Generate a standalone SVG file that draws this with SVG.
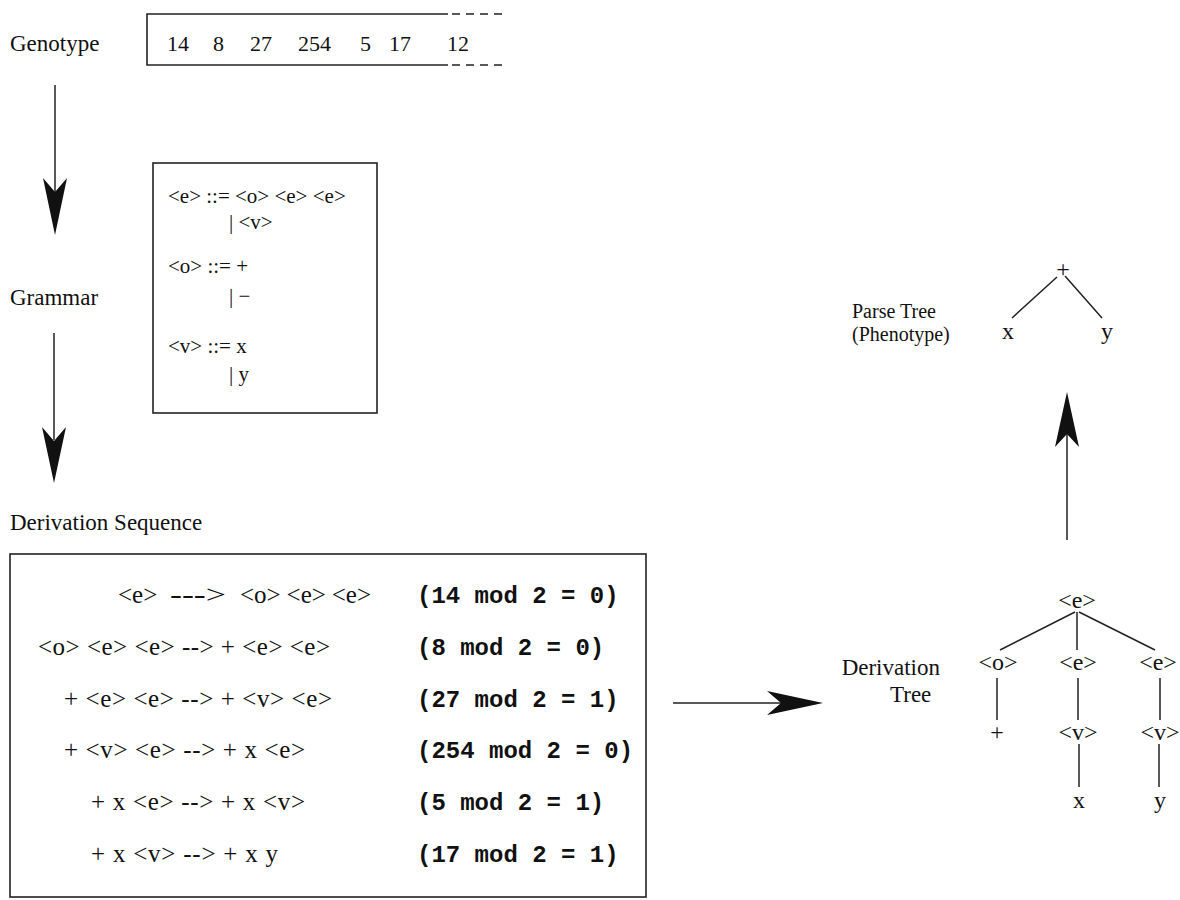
<svg xmlns="http://www.w3.org/2000/svg" width="1180" height="900" viewBox="0 0 1180 900">
<style>
.lbl{font-family:"Liberation Serif","Times New Roman",serif;font-size:23px;fill:#111}
.plbl{font-family:"Liberation Serif","Times New Roman",serif;font-size:20px;fill:#111}
.num{font-family:"Liberation Serif","Times New Roman",serif;font-size:22px;fill:#111}
.gr{font-family:"Liberation Serif","Times New Roman",serif;font-size:21px;fill:#111}
.dv{font-family:"Liberation Serif","Times New Roman",serif;font-size:25px;fill:#111}
.tr{font-family:"Liberation Serif","Times New Roman",serif;font-size:24px;fill:#111;text-anchor:middle}
.md{font-family:"Liberation Mono","Courier New",monospace;font-size:24px;font-weight:bold;fill:#111}
.box{fill:none;stroke:#222;stroke-width:1.6}
.ln{stroke:#222;stroke-width:1.5;fill:none}
.ah{fill:#111;stroke:none}
</style>
<rect width="1180" height="900" fill="#fff"/>

<g id="genotype">
<text class="lbl" x="10" y="51">Genotype</text>
<path class="box" d="M448 14 H147 V65 H448"/>
<path class="box" d="M452 14 H502 M452 65 H502" stroke-dasharray="8 6"/>
<text class="num" x="167" y="51">14</text>
<text class="num" x="213" y="51">8</text>
<text class="num" x="250" y="51">27</text>
<text class="num" x="298" y="51">254</text>
<text class="num" x="360" y="51">5</text>
<text class="num" x="389" y="51">17</text>
<text class="num" x="447" y="51">12</text>
</g>

<g id="grammar">
<text class="lbl" x="10" y="305">Grammar</text>
<rect class="box" x="153" y="163" width="224" height="250"/>
<text class="gr" x="168" y="203">&lt;e&gt; ::= &lt;o&gt; &lt;e&gt; &lt;e&gt;</text>
<text class="gr" x="229" y="229">| &lt;v&gt;</text>
<text class="gr" x="168" y="273">&lt;o&gt; ::= +</text>
<text class="gr" x="229" y="303">| −</text>
<text class="gr" x="168" y="353">&lt;v&gt; ::= x</text>
<text class="gr" x="229" y="381">| y</text>
</g>

<g id="derivation-sequence">
<text class="lbl" x="10" y="530">Derivation Sequence</text>
<rect class="box" x="10" y="554" width="636" height="343"/>
<text class="dv" x="118" y="603">&lt;e&gt;</text>
<text class="dv" x="170" y="603" textLength="56" lengthAdjust="spacingAndGlyphs">---&gt;</text>
<text class="dv" x="240" y="603" textLength="131" lengthAdjust="spacing">&lt;o&gt; &lt;e&gt; &lt;e&gt;</text>
<text class="dv" x="38" y="655" textLength="292" lengthAdjust="spacing">&lt;o&gt; &lt;e&gt; &lt;e&gt; --&gt; + &lt;e&gt; &lt;e&gt;</text>
<text class="dv" x="64" y="707" textLength="268" lengthAdjust="spacing">+ &lt;e&gt; &lt;e&gt; --&gt; + &lt;v&gt; &lt;e&gt;</text>
<text class="dv" x="64" y="758" textLength="241" lengthAdjust="spacing">+ &lt;v&gt; &lt;e&gt; --&gt; + x &lt;e&gt;</text>
<text class="dv" x="91" y="810" textLength="214" lengthAdjust="spacing">+ x &lt;e&gt; --&gt; + x &lt;v&gt;</text>
<text class="dv" x="91" y="862" textLength="187" lengthAdjust="spacing">+ x &lt;v&gt; --&gt; + x y</text>
<text class="md" x="417" y="603">(14 mod 2 = 0)</text>
<text class="md" x="417" y="655">(8 mod 2 = 0)</text>
<text class="md" x="417" y="707">(27 mod 2 = 1)</text>
<text class="md" x="417" y="758">(254 mod 2 = 0)</text>
<text class="md" x="417" y="810">(5 mod 2 = 1)</text>
<text class="md" x="417" y="862">(17 mod 2 = 1)</text>
</g>

<g id="derivation-tree">
<text class="lbl" x="940" y="675" text-anchor="end">Derivation</text>
<text class="lbl" x="890" y="702">Tree</text>
<text class="tr" x="1077" y="608">&lt;e&gt;</text>
<text class="tr" x="998" y="670">&lt;o&gt;</text>
<text class="tr" x="1078" y="670">&lt;e&gt;</text>
<text class="tr" x="1158" y="670">&lt;e&gt;</text>
<text class="tr" x="997" y="740">+</text>
<text class="tr" x="1078" y="740">&lt;v&gt;</text>
<text class="tr" x="1160" y="740">&lt;v&gt;</text>
<text class="tr" x="1079" y="808">x</text>
<text class="tr" x="1160" y="808">y</text>
<path class="ln" d="M1075 612 L1000 650 M1077 612 V650 M1079 612 L1155 650 M997 678 V720 M1078 678 V720 M1160 678 V720 M1079 744 V787 M1159 744 V787"/>
</g>

<g id="parse-tree">
<text class="plbl" x="852" y="318">Parse Tree</text>
<text class="plbl" x="852" y="341">(Phenotype)</text>
<text class="tr" x="1063" y="277">+</text>
<text class="tr" x="1008" y="339">x</text>
<text class="tr" x="1107" y="339">y</text>
<path class="ln" d="M1057 277 L1012 318 M1065 276 L1102 318"/>
</g>

<g id="connectors">
<path class="ln" d="M55 85 V195"/>
<polygon class="ah" points="55,235 43,178 55,192 67,178"/>
<path class="ln" d="M54 333 V440"/>
<polygon class="ah" points="54,483 42,427 54,441 66,427"/>
<path class="ln" d="M673 703 H782"/>
<polygon class="ah" points="823,703 767,691 781,703 767,715"/>
<path class="ln" d="M1067 540 V433"/>
<polygon class="ah" points="1067,392 1055,447 1067,434 1079,447"/>
</g>
</svg>
